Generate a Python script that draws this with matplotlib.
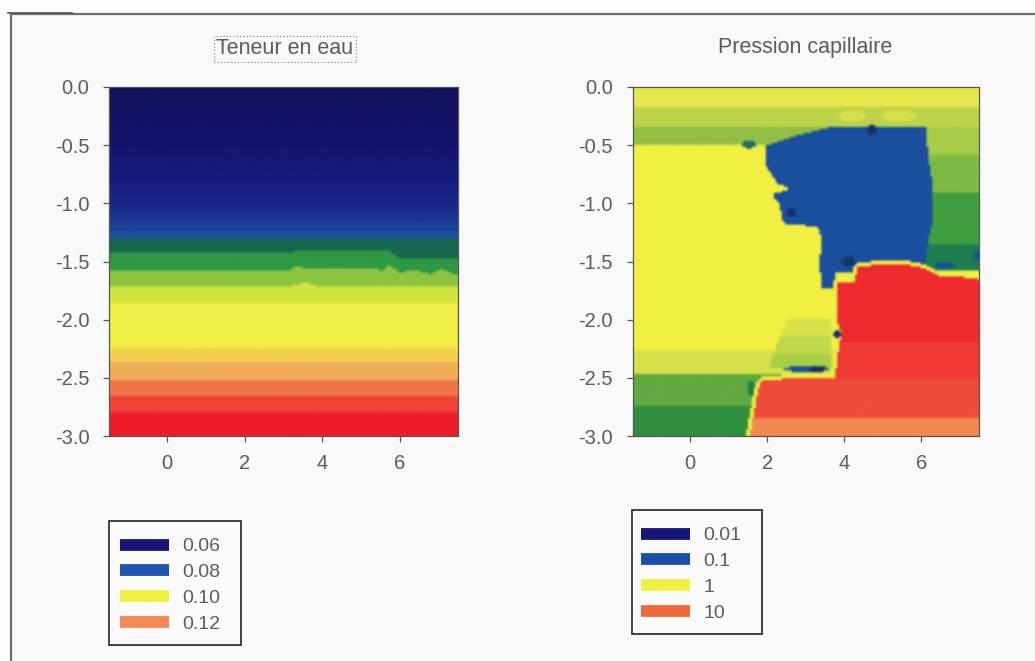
import numpy as np
import matplotlib
matplotlib.use("Agg")
import matplotlib.pyplot as plt
from matplotlib.colors import to_rgb
from matplotlib.lines import Line2D
from matplotlib.patches import Rectangle

plt.rcParams['font.family'] = ['Liberation Sans', 'DejaVu Sans']

W, H = 1035, 661
TXT = '#5c5c5c'

# ---------- data: left panel (depth bands of water content) ----------
left_title = "Teneur en eau"
right_title = "Pression capillaire"
x_ticks = [0, 2, 4, 6]
y_ticks = [0.0, -0.5, -1.0, -1.5, -2.0, -2.5, -3.0]
left_legend = ['0.06', '0.08', '0.10', '0.12']
right_legend = ['0.01', '0.1', '1', '10']
left_legend_colors = ['#17177a', '#1f55b0', '#f0f040', '#f58a55']
right_legend_colors = ['#17177a', '#1c4fac', '#f0f040', '#f26a3c']

left_band_bottoms = [0.1, 0.2, 0.3, 0.4, 0.5, 0.6, 0.7, 0.8, 0.9, 1.0, 1.08, 1.16, 1.23, 1.3,
                     1.43, 1.58, 1.71, 1.85, 2.25, 2.37, 2.53, 2.67, 2.8, 3.0]
left_band_colors = ['#13115c', '#131160', '#141265', '#141369', '#15146d', '#161671', '#161875',
                    '#171b7a', '#181f80', '#192486', '#1a2b8c', '#1b3594', '#1c4299', '#1c50a0',
                    '#17674f', '#2f9845', '#8cc43f', '#cfe340',
                    '#f0ee42', '#f2d04e', '#f2ad55', '#f0764a', '#ee4235', '#ee1d2a']
wavy_x = [-1.5, 3.1, 3.3, 5.6, 5.75, 6.0, 6.4, 6.8, 7.1, 7.5]
wavy_143 = [1.43, 1.43, 1.41, 1.41, 1.41, 1.47, 1.48, 1.48, 1.48, 1.48]
wavy_158 = [1.58, 1.58, 1.55, 1.57, 1.53, 1.595, 1.575, 1.61, 1.565, 1.62]
bump_x = [-1.5, 3.2, 3.6, 3.95, 7.5]
bump_171 = [1.71, 1.71, 1.675, 1.72, 1.72]

# ---------- data: right panel (capillary pressure regions) ----------
blue_depth = [0.33, 0.40, 0.50, 0.70, 0.75, 0.83, 0.87, 0.92, 1.00, 1.10, 1.17, 1.20, 1.30, 1.50, 1.73]
blue_left = [3.7, 2.87, 1.92, 1.97, 2.10, 2.25, 2.60, 2.10, 2.30, 2.35, 2.40, 3.30, 3.39, 3.35, 3.38]
blue_right = [6.15, 6.15, 6.15, 6.22, 6.25, 6.28, 6.30, 6.30, 6.30, 6.30, 6.28, 6.25, 6.18, 6.10, 6.10]
blue_bottom_x = [3.3, 3.7, 3.75, 4.25, 4.3, 7.5]
blue_bottom = [1.73, 1.73, 1.60, 1.60, 1.52, 1.52]

red_top_x = [3.78, 4.25, 4.35, 5.5, 6.1, 6.5, 7.3, 7.5]
red_top = [1.68, 1.68, 1.54, 1.52, 1.56, 1.63, 1.64, 1.66]
red_left_depth = [1.5, 2.0, 2.13, 2.3, 2.51, 2.52, 2.6, 2.75, 2.9, 3.0]
red_left = [3.78, 3.80, 3.90, 3.82, 3.74, 1.84, 1.75, 1.66, 1.58, 1.53]

bg_left_bottoms = [0.17, 0.33, 0.49, 2.27, 2.47, 2.75, 3.0]
bg_left_colors = ['#e6e84a', '#bcd34a', '#93bf45', '#f0f042', '#d5e04a', '#62a93f', '#2f8f3f']
bg_right_bottoms = [0.17, 0.33, 0.58, 0.90, 1.35, 1.57, 3.0]
bg_right_colors = ['#e6e84a', '#bcd34a', '#a8cb48', '#7fbb45', '#3f9e42', '#1e7c50', '#cadd48']
red_bottoms = [2.2, 2.5, 2.85, 3.0]
red_colors = ['#ee2a2e', '#ef3a35', '#f04a3a', '#f08a4f']
blue_color = '#1a4f9e'
navy_color = '#17306f'
halo_color = '#f0f042'

# patch of light green above the red shelf
patch_depth = [2.0, 2.2, 2.43]
patch_left = [2.5, 2.25, 2.0]
patch_right = [3.65, 3.65, 3.65]
patch_bottoms = [2.14, 2.3, 2.43]
patch_colors = ['#d8e24a', '#bfd94a', '#a8cf48']

# small dark spots: x, depth, half-width, half-height, colour
spots = [(1.5, 0.49, 0.2, 0.03, '#1e6e6a'), (3.8, 2.13, 0.1, 0.03, navy_color),
         (4.1, 1.5, 0.18, 0.04, navy_color), (2.6, 1.08, 0.12, 0.04, navy_color),
         (4.7, 0.36, 0.14, 0.04, navy_color), (3.0, 2.43, 0.6, 0.025, blue_color),
         (3.3, 2.43, 0.2, 0.03, navy_color), (1.55, 2.6, 0.08, 0.07, '#1e7c50'),
         (6.6, 1.53, 0.25, 0.03, blue_color), (7.45, 1.45, 0.08, 0.04, blue_color),
         (4.2, 0.24, 0.35, 0.05, '#d6e04a'), (5.4, 0.24, 0.45, 0.05, '#d6e04a')]

# ---------- rasterise the fields ----------
NG = 175
xg = np.linspace(-1.5, 7.5, NG)
dg = np.linspace(0, 3, NG)
XX, DD = np.meshgrid(xg, dg)


def rgb(colors):
    return np.array([to_rgb(c) for c in colors])


def band_image(bottoms, colors):
    idx = np.clip(np.searchsorted(bottoms, DD), 0, len(bottoms) - 1)
    return rgb(colors)[idx]


# left field
edges = np.tile(np.array(left_band_bottoms)[None, :], (NG, 1))
edges[:, 14] = np.interp(xg, wavy_x, wavy_143)
edges[:, 15] = np.interp(xg, wavy_x, wavy_158)
edges[:, 16] = np.interp(xg, bump_x, bump_171)
left_idx = (DD[:, :, None] > edges[None, :, :]).sum(axis=2).clip(0, len(left_band_colors) - 1)
left_img = rgb(left_band_colors)[left_idx]

# right field
r_img = band_image(bg_left_bottoms, bg_left_colors)

bl = np.interp(dg, blue_depth, blue_left)[:, None]
br = np.interp(dg, blue_depth, blue_right)[:, None]
bb = np.interp(xg, blue_bottom_x, blue_bottom)[None, :]
rt = np.interp(xg, red_top_x, red_top)[None, :]
rl = np.interp(dg, red_left_depth, red_left)[:, None]

right_side = (XX >= br) & (DD >= blue_depth[0]) & (DD < bg_right_bottoms[-2])
top_side = DD < bg_left_bottoms[1]
r_right = band_image(bg_right_bottoms, bg_right_colors)
r_img[right_side] = r_right[right_side]
r_img[top_side] = r_right[top_side]
# right of the blue block above its top: same light band
upper_right = (XX > blue_left[0]) & (DD < bg_left_bottoms[2]) & (DD >= bg_left_bottoms[1])
r_img[upper_right] = to_rgb(bg_right_colors[2])

blue = (DD >= blue_depth[0]) & (DD <= blue_depth[-1]) & (XX >= bl) & (XX <= br) & (DD <= bb)
r_img[blue] = to_rgb(blue_color)

pl = np.interp(dg, patch_depth, patch_left)[:, None]
pr = np.interp(dg, patch_depth, patch_right)[:, None]
patch = (DD >= patch_depth[0]) & (DD <= patch_depth[-1]) & (XX >= pl) & (XX <= pr)
r_patch = band_image(patch_bottoms, patch_colors)
r_img[patch] = r_patch[patch]

red = (DD >= rt) & (XX >= rl) & (XX >= red_top_x[0] - 2.3)
# halo: yellow rim round the red region
halo = red.copy()
for _ in range(2):
    grown = halo.copy()
    grown[1:, :] |= halo[:-1, :]
    grown[:-1, :] |= halo[1:, :]
    grown[:, 1:] |= halo[:, :-1]
    grown[:, :-1] |= halo[:, 1:]
    halo = grown
r_img[halo] = to_rgb(halo_color)

for sx, sd, rx, ry, col in spots:
    m = ((XX - sx) / rx) ** 2 + ((DD - sd) / ry) ** 2 <= 1
    r_img[m] = to_rgb(col)

red_idx = np.clip(np.searchsorted(red_bottoms, DD), 0, len(red_bottoms) - 1)
r_red = rgb(red_colors)[red_idx]
r_img[red] = r_red[red]


# ---------- figure ----------
def fx(px):
    return px / W


def fy(py):
    return 1 - py / H


fig = plt.figure(figsize=(W / 100, H / 100), dpi=100, facecolor='#fdfdfd')
fig.add_artist(Rectangle((fx(11), fy(700)), fx(1100), fy(14) - fy(700), transform=fig.transFigure,
                         facecolor='#f9f9f9', edgecolor='#6e6e6e', linewidth=1.6, zorder=-5))
fig.add_artist(Line2D([fx(8), fx(72)], [fy(12.5), fy(12.5)], transform=fig.transFigure,
                      color='#555555', linewidth=1.2, zorder=-4))


def panel(box, img, title, tcenter, handles_labels, legend_box, swatch_shift):
    l, t, r, b = box
    ax = fig.add_axes([fx(l), fy(b), fx(r - l), fy(t) - fy(b)])
    ax.imshow(img, extent=[-1.5, 7.5, -3, 0], origin='upper', aspect='auto', interpolation='bicubic')
    ax.set_xlim(-1.5, 7.5)
    ax.set_ylim(-3, 0)
    ax.set_xticks(x_ticks)
    ax.set_yticks(y_ticks)
    ax.set_yticklabels([f'{v:.1f}' for v in y_ticks])
    ax.tick_params(axis='both', length=4, width=0.9, color='#555555', labelcolor=TXT,
                   labelsize=14.5)
    ax.tick_params(axis='x', pad=9)
    ax.tick_params(axis='y', pad=10)
    for s in ax.spines.values():
        s.set_color('#555555')
        s.set_linewidth(0.9)
    fig.text(fx(tcenter), fy(48), title, ha='center', va='center', color=TXT, fontsize=15.5)
    labels, colors = handles_labels
    handles = [Line2D([], [], color=c, linewidth=8.5, solid_capstyle='butt') for c in colors]
    bl_, bt_, br_, bb_ = legend_box
    fig.add_artist(Rectangle((fx(bl_), fy(bb_)), fx(br_ - bl_), fy(bt_) - fy(bb_), transform=fig.transFigure,
                             facecolor='#fbfbfb', edgecolor='#333333', linewidth=1.3, zorder=1))
    leg = fig.legend(handles, labels, loc='lower left',
                     bbox_to_anchor=(fx(bl_ + swatch_shift), fy(bb_ - 1)),
                     bbox_transform=fig.transFigure, frameon=False, fontsize=14,
                     labelcolor=TXT, handlelength=2.5, handletextpad=0.68, labelspacing=0.42,
                     borderpad=0.58, borderaxespad=0)
    leg.set_zorder(2)
    return ax


panel((109, 87, 458, 436), left_img, left_title, 284.5, (left_legend, left_legend_colors), (109, 521, 240.5, 645), 0)
panel((632.5, 87, 979, 436), r_img, right_title, 805.5, (right_legend, right_legend_colors), (631.5, 510, 762, 634), -1.5)

fig.add_artist(Rectangle((fx(214), fy(62)), fx(142), fy(36) - fy(62), transform=fig.transFigure,
                         facecolor='none', edgecolor='#777777', linewidth=0.8, linestyle=(0, (1, 2)), zorder=3))

fig.savefig('out.png', dpi=100, facecolor=fig.get_facecolor())
